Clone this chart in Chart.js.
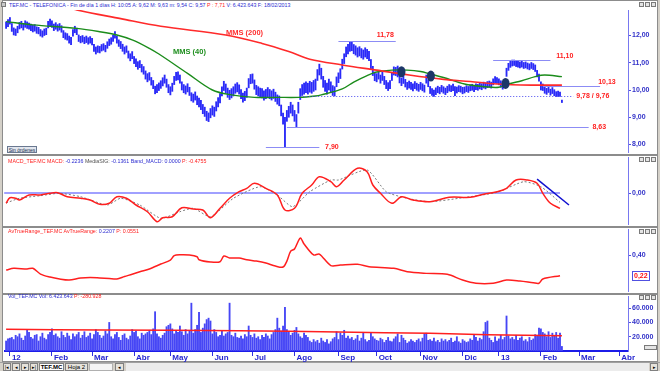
<!DOCTYPE html>
<html lang="es">
<head>
<meta charset="UTF-8">
<title>TEF.MC - TELEFONICA</title>
<script src="https://cdn.jsdelivr.net/npm/chart.js@4.4.4/dist/chart.umd.min.js"></script>
<style>
  html, body { margin: 0; padding: 0; }
  body { position: relative; width: 660px; height: 371px; overflow: hidden; background: #d4d0c8; font-family: "Liberation Sans", Arial, sans-serif; }
  .panel { position: absolute; left: 2px; width: 656px; background: #fff; border: 1px solid #8c8c8c; box-sizing: border-box; }
  .box { position: absolute; left: 4px; width: 656px; }
  .txt { position: absolute; white-space: nowrap; line-height: 1; }
  .small { font-size: 6px; transform: scaleX(0.88); transform-origin: left top; }
  .blue { color: #2c2cd0; }
  .red { color: #ff2020; }
  .dark { color: #505050; }
  .win { position: absolute; width: 5px; height: 5px; border: 1px solid #7a7a7a; background: #e4e4e4; box-sizing: border-box; }
  .btn { position: absolute; top: 363px; height: 8px; border: 1px solid #808080; background: #e6e3dc; box-sizing: border-box; font-size: 5px; line-height: 6px; text-align: center; color: #000; }
</style>
</head>
<body>
  <!-- panel frames -->
  <div class="panel" style="top:0;height:155px"></div>
  <div class="panel" style="top:155px;height:72px"></div>
  <div class="panel" style="top:227px;height:67px"></div>
  <div class="panel" style="top:294px;height:68px"></div>

  <div class="box" style="top:10px;height:143px"><canvas id="priceChart"></canvas></div>
  <div class="box" style="top:157px;height:68px"><canvas id="macdChart"></canvas></div>
  <div class="box" style="top:229px;height:63px"><canvas id="atrChart"></canvas></div>
  <div class="box" style="top:296px;height:66px"><canvas id="volChart"></canvas></div>

  <!-- header texts -->
  <div class="win" style="left:1px;top:2px;width:5px;height:5px;background:#c8c8c8"></div>
  <div class="txt small blue" style="left:9px;top:2px">TEF.MC - TELEFONICA - Fin de día 1 días H: 10:05 A: 9,62 M: 9,63 m: 9,54 C: 9,57 <span class="red">P : 7,71</span> V: 6.423.643 F: 18/02/2013</div>
  <div class="txt small" style="left:8px;top:158px"><span class="red">MACD_TEF.MC MACD:</span> <span class="blue">-0.2236</span> <span class="dark">MediaSIG:</span> <span class="blue">-0.1361 Band_MACD: 0.0000</span> <span class="red">P: -0.4755</span></div>
  <div class="txt small" style="left:8px;top:228px"><span class="red">AvTrueRange_TEF.MC AvTrueRange:</span> <span class="blue">0.2207</span> <span class="red">P: 0.0551</span></div>
  <div class="txt small" style="left:8px;top:293px"><span class="blue">Vol_TEF.MC Vol: 6.423.643</span> <span class="red">P: -280.928</span></div>

  <div class="txt" style="left:226px;top:29px;font-size:7.5px;font-weight:bold;color:#ff3030">MMS (200)</div>
  <div class="txt" style="left:173px;top:48px;font-size:7.5px;font-weight:bold;color:#1f8f1f">MMS (40)</div>

  <div class="txt" style="left:7px;top:146px;width:30px;height:7px;border:1px solid #6a7890;background:#e2e6ee;font-size:5px;line-height:6px;text-align:center;box-sizing:border-box;color:#203050">Sin órdenes</div>

  <!-- window buttons -->
  <div class="win" style="left:639px;top:2px"></div><div class="win" style="left:645px;top:2px"></div><div class="win" style="left:651px;top:2px"></div>
  <div class="win" style="left:639px;top:157px"></div><div class="win" style="left:645px;top:157px"></div><div class="win" style="left:651px;top:157px"></div>
  <div class="win" style="left:639px;top:229px"></div><div class="win" style="left:645px;top:229px"></div><div class="win" style="left:651px;top:229px"></div>
  <div class="win" style="left:639px;top:295px"></div><div class="win" style="left:645px;top:295px"></div><div class="win" style="left:651px;top:295px"></div>
  <div class="win" style="left:644px;top:345px;width:13px;height:5px"></div>

  <!-- bottom bar -->
  <div style="position:absolute;left:0;top:362px;width:660px;height:9px;background:#d4d0c8;border-top:1px solid #a0a0a0;box-sizing:border-box"></div>
  <div style="position:absolute;left:126px;top:363px;width:523px;height:8px;background:#ececec"></div>
  <div class="btn" style="left:3px;width:8px">|◂</div>
  <div class="btn" style="left:12px;width:8px">◂</div>
  <div class="btn" style="left:21px;width:8px">▸</div>
  <div class="btn" style="left:30px;width:8px">▸|</div>
  <div class="btn" style="left:39px;width:25px;background:#fff;font-weight:bold;font-size:6px">TEF.MC</div>
  <div class="btn" style="left:65px;width:23px;font-size:6px">Hoja 2</div>
  <div class="btn" style="left:89px;width:24px;background:#f4f4f4;border-color:#b0b0b0"></div>
  <div class="btn" style="left:115px;width:9px">◂</div>
  <div class="btn" style="left:650px;width:8px">▸</div>

  <script>
    // trading-day index of the first bar (29/12/2011); 0 = 02/01/2012
    const firstIdx = -2;

    const lows = [
      12.26, 12.32,
      12.42, 12.15, 12.02, 12.00, 12.10, 12.24, 12.28, 12.20, 12.30, 12.26,
      12.23, 12.18, 12.13, 12.16, 12.08, 12.06, 11.98, 11.94, 12.00, 12.03,
      12.28, 12.36, 12.30, 12.18, 12.23, 12.16, 12.20, 12.12, 11.92, 11.86,
      11.83, 11.72, 11.66, 11.98, 12.10, 12.03, 11.78, 11.73, 11.76, 11.70,
      11.74, 11.68, 11.72, 11.65, 11.42, 11.32, 11.38, 11.36, 11.43, 11.46,
      11.40, 11.53, 11.63, 11.68, 11.78, 11.90, 11.72, 11.60, 11.52, 11.42,
      11.32, 11.38, 11.17, 11.07, 11.15, 10.97, 10.86, 10.76, 10.82, 10.66,
      10.58, 10.40, 10.30, 10.36, 10.18, 10.05, 9.86, 9.90, 9.98, 10.06,
      10.15, 10.25, 10.10, 9.90, 9.82, 9.95, 10.20, 10.35, 10.37, 10.25,
      10.00, 9.90, 9.85, 9.93, 9.80, 9.60, 9.55, 9.63, 9.46, 9.38,
      9.28, 9.13, 9.03, 8.88, 8.84, 8.98, 9.08, 9.03, 9.23, 9.38,
      9.53, 9.78, 9.98, 9.88, 9.73, 9.65, 9.71, 9.78, 9.88, 9.93,
      9.85, 9.68, 9.55, 9.61, 9.73, 10.08, 10.23, 10.25, 10.03, 9.83,
      9.78, 9.73, 9.71, 9.63, 9.68, 9.75, 9.68, 9.63, 9.69, 9.58,
      9.48, 9.42, 9.05, 8.75, 7.90, 8.85, 9.00, 9.15, 9.05, 8.85,
      8.63, 9.15, 9.65, 9.80, 9.85, 9.90, 9.85, 9.92, 9.88, 9.95,
      10.00, 10.35, 10.55, 10.40, 10.10, 9.95, 9.85, 10.00, 9.90, 9.80,
      9.78, 10.12, 10.27, 10.42, 10.77, 10.97, 11.22, 11.32, 11.42, 11.44,
      11.33, 11.28, 11.21, 11.25, 11.18, 11.13, 11.21, 11.15, 11.08, 10.78,
      10.53, 10.34, 10.30, 10.40, 10.25, 10.35, 10.20, 10.05, 9.98, 10.05,
      10.35, 10.55, 10.53, 10.48, 10.26, 10.16, 10.24, 10.11, 10.02, 10.07,
      10.02, 9.97, 10.05, 9.99, 9.95, 10.02, 9.97, 9.92, 10.25, 10.12,
      9.87, 9.80, 9.76, 9.83, 9.90, 9.86, 9.93, 9.88, 9.83, 9.90,
      9.96, 9.94, 9.98, 9.79, 9.89, 9.94, 9.92, 9.86, 9.89, 9.94,
      9.91, 9.97, 9.99, 9.94, 10.01, 9.99, 10.04, 10.01, 10.07, 10.04,
      10.09, 10.11, 10.07, 10.19, 10.27, 10.24, 10.19, 10.10, 10.03, 10.16,
      10.50, 10.72, 10.83, 10.88, 10.90, 10.86, 10.84, 10.81, 10.84, 10.79,
      10.81, 10.77, 10.74, 10.79, 10.75, 10.68, 10.48, 10.32, 10.00, 9.98,
      9.88, 9.84, 9.91, 9.81, 9.87, 9.79, 9.76, 9.76, 9.76, 9.54
    ];
    const highs = [
      12.50, 12.58,
      12.66, 12.44, 12.28, 12.24, 12.34, 12.48, 12.52, 12.44, 12.54, 12.50,
      12.46, 12.42, 12.38, 12.40, 12.32, 12.30, 12.22, 12.17, 12.24, 12.27,
      12.52, 12.60, 12.54, 12.42, 12.47, 12.40, 12.44, 12.36, 12.18, 12.10,
      12.07, 11.98, 11.93, 12.22, 12.34, 12.27, 12.02, 11.97, 12.00, 11.94,
      11.98, 11.92, 11.96, 11.90, 11.68, 11.58, 11.62, 11.60, 11.67, 11.70,
      11.64, 11.77, 11.87, 11.92, 12.02, 12.14, 11.98, 11.84, 11.78, 11.68,
      11.58, 11.62, 11.43, 11.33, 11.41, 11.23, 11.14, 11.04, 11.08, 10.94,
      10.86, 10.70, 10.60, 10.64, 10.46, 10.35, 10.14, 10.20, 10.26, 10.34,
      10.45, 10.55, 10.40, 10.20, 10.12, 10.25, 10.50, 10.65, 10.67, 10.55,
      10.30, 10.20, 10.15, 10.23, 10.10, 9.90, 9.85, 9.93, 9.78, 9.70,
      9.62, 9.47, 9.37, 9.22, 9.16, 9.32, 9.42, 9.37, 9.57, 9.72,
      9.87, 10.12, 10.32, 10.22, 10.07, 9.99, 10.05, 10.12, 10.22, 10.27,
      10.19, 10.02, 9.89, 9.95, 10.07, 10.42, 10.57, 10.59, 10.37, 10.17,
      10.12, 10.07, 10.05, 9.97, 10.02, 10.09, 10.02, 9.97, 10.03, 9.92,
      9.82, 9.78, 9.45, 9.15, 9.00, 9.25, 9.40, 9.55, 9.45, 9.25,
      9.10, 9.55, 10.05, 10.20, 10.25, 10.30, 10.25, 10.32, 10.28, 10.35,
      10.40, 10.75, 10.95, 10.80, 10.50, 10.35, 10.25, 10.40, 10.30, 10.16,
      10.12, 10.48, 10.63, 10.78, 11.13, 11.33, 11.58, 11.68, 11.76, 11.78,
      11.67, 11.62, 11.55, 11.59, 11.52, 11.47, 11.55, 11.49, 11.42, 11.12,
      10.87, 10.66, 10.60, 10.70, 10.55, 10.65, 10.50, 10.35, 10.27, 10.35,
      10.65, 10.85, 10.83, 10.88, 10.54, 10.44, 10.52, 10.39, 10.28, 10.33,
      10.28, 10.23, 10.31, 10.25, 10.21, 10.28, 10.23, 10.18, 10.55, 10.38,
      10.13, 10.05, 10.00, 10.08, 10.14, 10.10, 10.17, 10.12, 10.07, 10.14,
      10.20, 10.16, 10.22, 10.13, 10.11, 10.16, 10.14, 10.10, 10.11, 10.16,
      10.13, 10.19, 10.21, 10.16, 10.23, 10.21, 10.26, 10.23, 10.29, 10.26,
      10.31, 10.33, 10.29, 10.41, 10.49, 10.46, 10.41, 10.34, 10.27, 10.40,
      10.80, 10.98, 11.07, 11.10, 11.10, 11.08, 11.06, 11.03, 11.06, 11.01,
      11.03, 10.99, 10.96, 11.01, 10.97, 10.92, 10.72, 10.58, 10.30, 10.22,
      10.12, 10.06, 10.13, 10.03, 10.09, 10.01, 9.94, 9.96, 9.92, 9.63
    ];
    // volume in millions of shares (axis shows thousands)
    const vols = [
      14, 17,
      18, 19, 16, 22, 20, 24, 18, 15, 21, 29,
      26, 19, 17, 22, 23, 14, 20, 25, 18, 16,
      23, 26, 31, 22, 24, 20, 18, 27, 22, 19,
      25, 21, 16, 24, 20, 23, 26, 18, 22, 27,
      19, 21, 25, 17, 23, 30, 26, 22, 18, 21,
      28, 24, 40, 20, 17, 23, 26, 19, 15, 22,
      24, 18, 16, 21, 30, 26, 28, 20, 17, 25,
      22, 24, 26, 29, 23, 31, 55, 24, 20, 18,
      22, 25, 34, 36, 38, 31, 24, 28, 26, 35,
      27, 22, 30, 24, 28, 67, 25, 30, 36, 54,
      26, 32, 38, 44, 46, 42, 24, 30, 26, 20,
      22, 28, 21, 24, 26, 67, 22, 20, 25, 19,
      18, 21, 17, 23, 20, 35, 22, 19, 24, 18,
      20, 16, 22, 19, 24, 21, 17, 23, 26, 30,
      46, 32, 28, 35, 61, 30, 27, 22, 25, 29,
      33, 24, 20, 18, 25, 22, 19, 14, 12, 16,
      13, 15, 11, 18, 14, 12, 16, 10, 13, 17,
      19, 27, 16, 25, 22, 29, 18, 21, 17, 19,
      15, 17, 22, 14, 18, 25, 16, 13, 15, 26,
      20, 17, 15, 14, 18, 16, 12, 15, 19, 14,
      13, 17, 20, 24, 12, 22, 18, 15, 11, 13,
      16, 14, 12, 15, 17, 13, 18, 24, 25, 15,
      16, 14, 18, 13, 15, 12, 17, 14, 16, 13,
      15, 18, 12, 14, 20, 13, 11, 16, 14, 12,
      13, 17, 15, 22, 19, 14, 18, 16, 27, 40,
      42, 18, 15, 12, 20, 14, 17, 22, 16, 19,
      49, 21, 17, 19, 16, 22, 15, 18, 20, 14,
      16, 13, 19, 15, 17, 23, 22, 32, 31, 26,
      24, 20, 27, 19, 25, 22, 26, 18, 25, 6.4
    ];

    const mms200Idx = [-2, 35, 58, 79, 113, 132, 146, 157, 174, 192, 209, 227, 241, 255, 273, 289];
    const mms200Val = [13.60, 12.94, 12.62, 12.34, 12.02, 11.71, 11.41, 11.13, 10.92, 10.73, 10.55, 10.39, 10.31, 10.22, 10.18, 10.18];

    const mms40Idx = [-2, 12, 35, 47, 56, 64, 73, 78, 93, 106, 116, 128, 140, 151, 160, 163, 174, 180, 187, 192, 200, 208, 215, 220, 227, 238, 249, 256, 261, 268, 275, 280, 289];
    const mms40Val = [12.51, 12.39, 12.26, 12.14, 12.02, 11.84, 11.53, 11.32, 10.61, 10.00, 9.82, 9.73, 9.73, 9.73, 9.78, 9.82, 10.04, 10.29, 10.53, 10.66, 10.73, 10.73, 10.68, 10.59, 10.46, 10.22, 10.12, 10.10, 10.22, 10.34, 10.49, 10.55, 10.49];

    // support / resistance levels drawn on the price panel
    const levelVal  = [11.78, 11.10, 10.13, 9.78, 8.63, 7.90];
    const levelFrom = [172, 253, 279, 152, 145, 134];
    const levelTo   = [202, 283, 309, 295, 303, 162];
    const levelText = ['11,78', '11,10', '10,13', '9,78 / 9,76', '8,63', '7,90'];

    // crossing marks
    const crossIdx = [205, 220.4, 259.5];
    const crossVal = [10.67, 10.51, 10.24];

    const macdIdx = [-2, 0, 3, 5, 10, 16, 21, 25, 30, 37, 42, 47, 52, 56, 61, 66, 72, 77, 80, 85, 90, 96, 101, 105, 110, 115, 120, 124, 128, 134, 140, 144, 149, 153, 158, 162, 168, 171, 175, 182, 187, 190, 194, 200, 205, 211, 220, 230, 241, 248, 255, 260, 265, 271, 276, 279, 283, 288];
    const macdVal = [-0.150, -0.069, -0.077, -0.102, -0.029, -0.029, -0.004, 0.004, -0.054, -0.077, -0.102, -0.165, -0.150, -0.054, -0.077, -0.175, -0.273, -0.419, -0.361, -0.346, -0.215, -0.234, -0.248, -0.361, -0.223, -0.077, 0.019, 0.069, 0.142, 0.069, -0.029, -0.248, -0.223, -0.004, 0.117, 0.238, 0.165, 0.092, 0.190, 0.361, 0.311, 0.117, -0.004, -0.150, -0.054, -0.102, -0.127, -0.063, -0.063, -0.019, 0.019, 0.069, 0.190, 0.190, 0.142, -0.004, -0.150, -0.224];

    const sigIdx = [-2, 5, 16, 26, 37, 51, 58, 68, 79, 89, 96, 105, 117, 131, 140, 148, 157, 168, 172, 187, 197, 208, 220, 237, 255, 269, 278, 288];
    const sigVal = [-0.146, -0.077, -0.039, -0.004, -0.054, -0.175, -0.077, -0.175, -0.369, -0.273, -0.223, -0.346, -0.077, 0.092, -0.029, -0.200, 0.019, 0.190, 0.190, 0.336, 0.019, -0.077, -0.127, -0.069, 0.010, 0.165, 0.092, -0.136];

    const bandIdx = [-3, 288];
    const bandVal = [0, 0];

    const trendIdx = [276, 292.7];
    const trendVal = [0.204, -0.175];

    const atrIdx = [-2, 2, 9, 12, 16, 21, 26, 31, 37, 42, 47, 52, 56, 60, 64, 68, 73, 79, 84, 86, 89, 94, 98, 99, 105, 110, 112, 115, 120, 124, 129, 134, 139, 143, 145, 147, 149, 152, 154, 159, 162, 168, 173, 182, 188, 201, 208, 218, 229, 237, 244, 253, 260, 267, 274, 277, 279, 288];
    const atrVal = [0.272, 0.287, 0.281, 0.287, 0.237, 0.211, 0.194, 0.185, 0.203, 0.207, 0.203, 0.198, 0.194, 0.216, 0.235, 0.257, 0.281, 0.324, 0.359, 0.397, 0.405, 0.403, 0.388, 0.362, 0.342, 0.344, 0.394, 0.377, 0.377, 0.362, 0.350, 0.333, 0.307, 0.298, 0.350, 0.437, 0.455, 0.550, 0.498, 0.403, 0.411, 0.311, 0.316, 0.322, 0.301, 0.287, 0.257, 0.243, 0.235, 0.185, 0.157, 0.157, 0.185, 0.177, 0.162, 0.157, 0.194, 0.223];

    const volMaIdx = [-2, 50, 120, 172, 220, 250, 289];
    const volMaVal = [30.3, 29.4, 28.4, 26.5, 24.8, 22.8, 21.4];
    const volTicks = [20, 40, 60];

    const monthIdx = [0, 22, 43, 65, 84, 106, 127, 149, 172, 192, 215, 237, 256, 278, 298, 319];
    const monthLbl = ['12', 'Feb', 'Mar', 'Abr', 'May', 'Jun', 'Jul', 'Ago', 'Sep', 'Oct', 'Nov', 'Dic', '13', 'Feb', 'Mar', 'Abr'];

    // ---------- helpers ----------
    Chart.defaults.font.family = '"Liberation Sans", Arial, sans-serif';
    Chart.defaults.animation = false;
    Chart.defaults.plugins.legend.display = false;
    Chart.defaults.plugins.tooltip.enabled = false;

    const X_MIN = -3.1, X_MAX = 323.6;
    const pts = (ix, vs) => ix.map((x, k) => ({ x, y: vs[k] }));
    const comma = v => v.toFixed(2).replace('.', ',');
    const thousands = v => String(Math.round(v * 1000)).replace(/\B(?=(\d{3})+(?!\d))/g, '.');

    function xAxis(show) {
      return {
        type: 'linear', min: X_MIN, max: X_MAX, display: show, offset: false,
        afterFit: s => { s.paddingLeft = 0; s.paddingRight = 0; if (show) s.height = 11; },
        afterBuildTicks: s => { s.ticks = monthIdx.map(v => ({ value: v })); },
        border: { display: true, color: '#1c1ce8', width: 2 },
        grid: { display: true, drawOnChartArea: false, drawTicks: true, tickLength: 5, color: '#3030e0', offset: false },
        ticks: {
          autoSkip: false, maxRotation: 0, align: 'start', labelOffset: 2, padding: -3,
          color: '#2525d0', font: { size: 8, weight: 'bold' },
          callback: v => monthLbl[monthIdx.indexOf(v)]
        }
      };
    }
    function yAxis(min, max, extra) {
      return Object.assign({
        type: 'linear', position: 'right', min, max,
        afterFit: s => { s.width = 32; s.paddingTop = 0; s.paddingBottom = 0; },
        border: { display: true, color: '#7878f0', width: 1 },
        grid: { display: true, drawOnChartArea: false, drawTicks: true, tickLength: 3, color: '#5050e0' },
        ticks: { includeBounds: false, padding: 1, color: '#3030c8', font: { size: 7, weight: 'bold' }, callback: comma }
      }, extra);
    }
    const line = (data, color, width, extra) => Object.assign({
      type: 'line', data, borderColor: color, borderWidth: width, pointRadius: 0,
      fill: false, tension: 0.35, order: 0
    }, extra);

    // ---------- plugins ----------
    const priceMarks = {
      id: 'priceMarks',
      afterDatasetsDraw(chart) {
        const { ctx, scales: { x, y } } = chart;
        const labelAt = [192, 286, 308, 296.5, 305, 165];
        const labelDy = [-6, -4, -4, 0, 0, 0];
        ctx.save();
        levelVal.forEach((v, k) => {
          const py = Math.round(y.getPixelForValue(v)) + 0.5;
          ctx.beginPath();
          ctx.setLineDash(k === 3 ? [1, 2] : []);
          ctx.strokeStyle = k === 3 ? '#4a4af0' : '#8c8cf5';
          ctx.lineWidth = 1;
          ctx.moveTo(x.getPixelForValue(levelFrom[k]), py);
          ctx.lineTo(x.getPixelForValue(levelTo[k]), py);
          ctx.stroke();
          ctx.setLineDash([]);
          ctx.fillStyle = '#ff2020';
          ctx.font = 'bold 7px "Liberation Sans", Arial, sans-serif';
          ctx.textBaseline = 'middle';
          ctx.fillText(levelText[k], x.getPixelForValue(labelAt[k]), py + labelDy[k]);
        });
        crossIdx.forEach((ix, k) => {
          ctx.beginPath();
          ctx.ellipse(x.getPixelForValue(ix), y.getPixelForValue(crossVal[k]), 4, 5.5, 0, 0, Math.PI * 2);
          ctx.fillStyle = '#1c3668';
          ctx.fill();
        });
        ctx.restore();
      }
    };
    const atrLast = {
      id: 'atrLast',
      afterDraw(chart) {
        const { ctx, scales: { y }, chartArea } = chart;
        const v = atrVal[atrVal.length - 1];
        const py = Math.round(y.getPixelForValue(v));
        const x0 = chartArea.right + 4;
        ctx.save();
        ctx.fillStyle = '#fff';
        ctx.fillRect(x0, py - 5, 18, 10);
        ctx.strokeStyle = '#5050e0';
        ctx.lineWidth = 1;
        ctx.strokeRect(x0 + 0.5, py - 4.5, 17, 9);
        ctx.fillStyle = '#ff1010';
        ctx.font = 'bold 7px "Liberation Sans", Arial, sans-serif';
        ctx.textBaseline = 'middle';
        ctx.fillText(comma(v), x0 + 2, py + 0.5);
        ctx.restore();
      }
    };

    const common = { responsive: true, maintainAspectRatio: false, layout: { padding: 0 } };

    // ---------- price ----------
    new Chart(document.getElementById('priceChart'), {
      type: 'bar',
      data: {
        datasets: [
          line(pts(mms200Idx, mms200Val), '#ff2a2a', 1.6),
          line(pts(mms40Idx, mms40Val), '#1b8c1b', 1.4),
          {
            type: 'bar', order: 1,
            data: lows.map((lo, k) => ({ x: firstIdx + k, y: [lo, highs[k]] })),
            backgroundColor: '#2a2af8', barThickness: 1.2, minBarLength: 1, grouped: false
          }
        ]
      },
      options: Object.assign({}, common, {
        scales: {
          x: xAxis(false),
          y: yAxis(7.688, 12.936, {})
        }
      }),
      plugins: [priceMarks]
    });

    // ---------- MACD ----------
    new Chart(document.getElementById('macdChart'), {
      type: 'line',
      data: {
        datasets: [
          line(pts(trendIdx, trendVal), '#1010d0', 1.5, { tension: 0 }),
          line(pts(macdIdx, macdVal), '#ff1f1f', 1.5),
          line(pts(sigIdx, sigVal), '#7a7a7a', 1, { borderDash: [2, 2], tension: 0.2 }),
          line(pts(bandIdx, bandVal), '#a0a0ff', 2, { tension: 0 })
        ]
      },
      options: Object.assign({}, common, {
        scales: {
          x: xAxis(false),
          y: yAxis(-0.467, 0.526, { afterBuildTicks: s => { s.ticks = [{ value: 0 }]; } })
        }
      })
    });

    // ---------- ATR ----------
    new Chart(document.getElementById('atrChart'), {
      type: 'line',
      data: { datasets: [line(pts(atrIdx, atrVal), '#ff1f1f', 1.5, { tension: 0.3 })] },
      options: Object.assign({}, common, {
        scales: {
          x: xAxis(false),
          y: yAxis(0.081, 0.629, { afterBuildTicks: s => { s.ticks = [{ value: 0.4 }]; } })
        }
      }),
      plugins: [atrLast]
    });

    // ---------- volume ----------
    new Chart(document.getElementById('volChart'), {
      type: 'bar',
      data: {
        datasets: [
          line(pts(volMaIdx, volMaVal), '#ff2020', 1.5, { tension: 0.2 }),
          {
            type: 'bar', order: 1,
            data: vols.map((v, k) => ({ x: firstIdx + k, y: v })),
            backgroundColor: '#4646f5', barThickness: 1.2, grouped: false
          }
        ]
      },
      options: Object.assign({}, common, {
        scales: {
          x: xAxis(true),
          y: yAxis(0, 77, {
            afterBuildTicks: s => { s.ticks = volTicks.map(v => ({ value: v })); },
            ticks: { padding: 1, color: '#3030c8', font: { size: 7, weight: 'bold' }, callback: thousands }
          })
        }
      })
    });
  </script>
</body>
</html>
